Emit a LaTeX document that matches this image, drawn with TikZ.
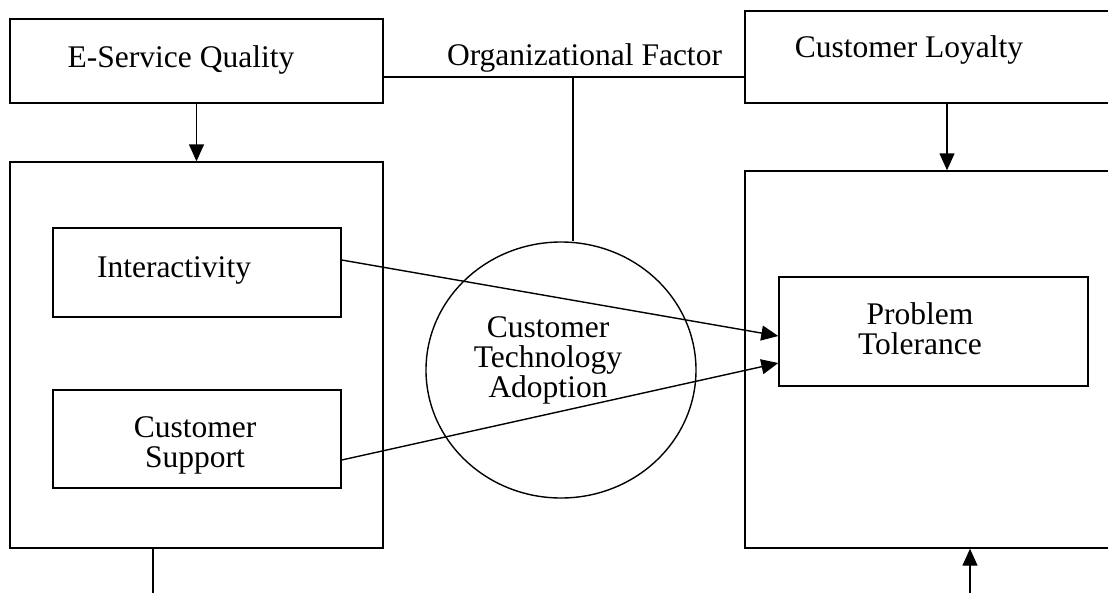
\documentclass[tikz,border=0pt]{standalone}
\usepackage{fontspec}
\setmainfont{Liberation Serif}
\usetikzlibrary{arrows.meta,shapes.geometric}

\begin{document}
\begin{tikzpicture}[x=1pt,y=-1pt,line width=1.4pt,
  box/.style={draw,rectangle,inner sep=0pt},
  txt/.style={anchor=base,align=center,inner sep=0pt,font=\fontsize{31.5}{30}\selectfont},
  arr/.style={-{Triangle[length=17pt,width=15pt]}}]
\useasboundingbox[fill=white] (0,0) rectangle (1108,592);
\node[box,minimum width=373pt,minimum height=84pt] (esq) at (196.5,61) {};
\node[txt] (esqt) at (181,67) {E-Service Quality};
\node[box,minimum width=404pt,minimum height=92pt] (loy) at (947,57) {};
\node[txt] (loyt) at (909,57) {Customer Loyalty};
\node[txt] (org) at (584.5,65) {Organizational Factor};
\node[box,minimum width=373pt,minimum height=386pt] (lbig) at (196.5,355) {};
\node[box,minimum width=288pt,minimum height=89pt] (inter) at (197,272.5) {};
\node[txt] (intert) at (174,277) {Interactivity};
\node[box,minimum width=288pt,minimum height=98pt] (supp) at (197,439) {};
\node[txt] (suppt) at (195,467) {Customer\\Support};
\node[box,minimum width=404pt,minimum height=377pt] (rbig) at (947,359.5) {};
\node[box,minimum width=309pt,minimum height=109pt] (prob) at (933.5,331.5) {};
\node[txt] (probt) at (920,354) {Problem\\Tolerance};
\node[draw,ellipse,inner sep=0pt,minimum width=270pt,minimum height=256pt] (cta) at (561,370) {};
\node[txt] (ctat) at (548,397) {Customer\\Technology\\Adoption};
\coordinate (orgmid) at (573,77);
\coordinate (lfoot) at (153,600);
\coordinate (rfoot) at (970,600);

\draw[arr] (esq) -- (lbig);
\draw[arr] (loy) -- (rbig);
\draw (esq.east |- orgmid) -- (loy.west |- orgmid);
\draw (orgmid) -- (orgmid |- cta.north);
\draw[arr] ([yshift=12.5pt]inter.east) -- ([yshift=-4.5pt]prob.west);
\draw[arr] ([yshift=-21pt]supp.east) -- ([yshift=-31.5pt]prob.west);
\draw (lfoot |- lbig.south) -- (lfoot);
\draw[arr] (rfoot) -- (rfoot |- rbig.south);
\end{tikzpicture}
\end{document}
